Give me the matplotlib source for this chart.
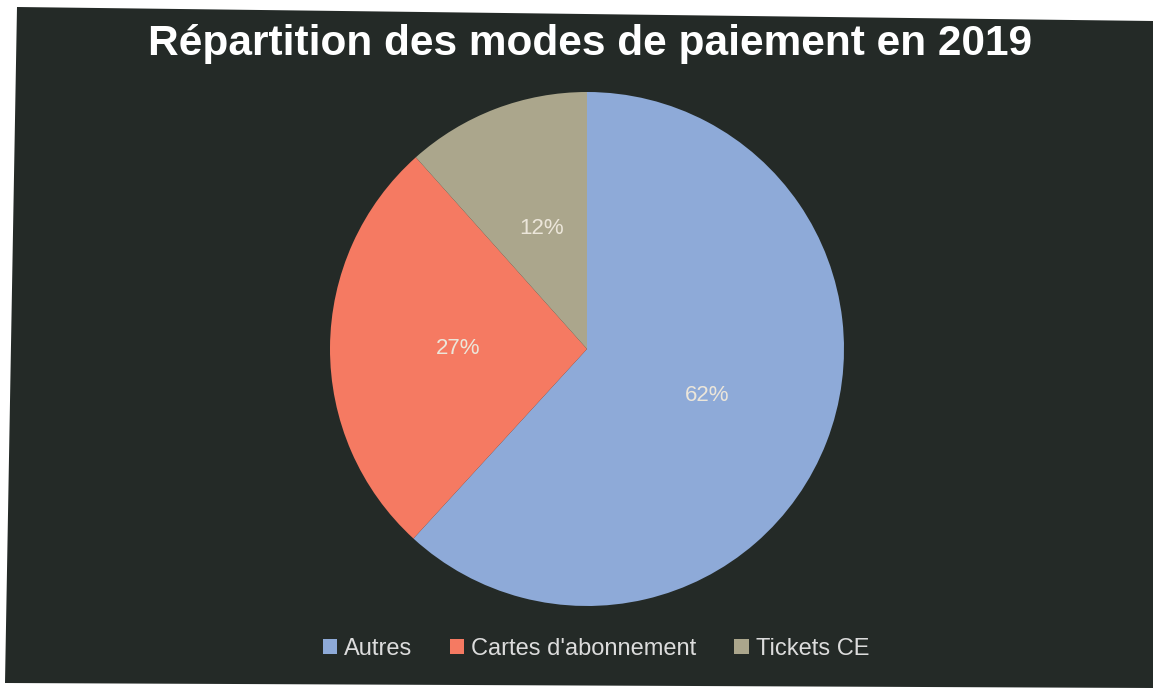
import matplotlib
matplotlib.use("Agg")
import matplotlib.pyplot as plt
from matplotlib.patches import Polygon, Patch

title = "Répartition des modes de paiement en 2019"
categories = ["Autres", "Cartes d'abonnement", "Tickets CE"]
values = [61.8, 26.6, 11.6]
colors = ["#8eaad8", "#f57a62", "#aba68c"]

W, H = 1153, 690
plt.rcParams['font.family'] = ['Liberation Sans', 'DejaVu Sans']
fig = plt.figure(figsize=(W / 100, H / 100), dpi=100, facecolor="white")

# dark (slightly skewed scanned) background
pts = [(17, 7), (1153, 21), (1153, 688), (5, 683)]
bg = Polygon([(x / W, 1 - y / H) for x, y in pts], closed=True,
             transform=fig.transFigure, facecolor="#242a27", edgecolor="none", zorder=-5)
fig.patches.append(bg)

cx, cy, r = 587, 349, 257
ax = fig.add_axes([(cx - r) / W, (H - cy - r) / H, 2 * r / W, 2 * r / H])
ax.set_zorder(1)
ax.patch.set_visible(False)
wedges, texts, autotexts = ax.pie(values, colors=colors, startangle=90, counterclock=False,
                                  radius=1, autopct=lambda p: f"{p:.0f}%", pctdistance=0.5,
                                  wedgeprops=dict(linewidth=0),
                                  textprops=dict(color="#ece6da", fontsize=16))
ax.set_xlim(-1, 1)
ax.set_ylim(-1, 1)
ax.set_aspect("equal")
ax.axis("off")

fig.text(590 / W, 1 - 44 / H, title, ha="center", va="center", fontsize=30.5,
         fontweight="bold", color="white", zorder=2)

handles = [Patch(facecolor=c, edgecolor="none") for c in colors]
leg = fig.legend(handles, categories, loc="center", bbox_to_anchor=(596 / W, 1 - 649 / H),
                 ncol=3, frameon=False, fontsize=17, labelcolor="#dcdcdc",
                 handlelength=0.6, handleheight=0.6, handletextpad=0.3, columnspacing=1.6)
leg.set_zorder(2)

fig.savefig("out.png", dpi=100, facecolor="white")
